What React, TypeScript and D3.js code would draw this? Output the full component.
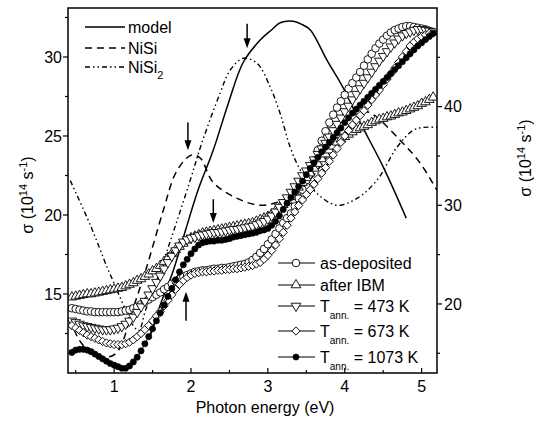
import React from 'react';
import * as d3 from 'd3';

// ---------- data ----------
const ENERGY = [0.45,0.5,0.55,0.6,0.65,0.7,0.75,0.8,0.85,0.9,
0.95,1.0,1.05,1.1,1.15,1.2,1.25,1.3,1.35,1.4,
1.45,1.5,1.55,1.6,1.65,1.7,1.75,1.8,1.85,1.9,
1.95,2.0,2.05,2.1,2.15,2.2,2.25,2.3,2.35,2.4,
2.45,2.5,2.55,2.6,2.65,2.7,2.75,2.8,2.85,2.9,
2.95,3.0,3.05,3.1,3.15,3.2,3.25,3.3,3.35,3.4,
3.45,3.5,3.55,3.6,3.65,3.7,3.75,3.8,3.85,3.9,
3.95,4.0,4.05,4.1,4.15,4.2,4.25,4.3,4.35,4.4,
4.45,4.5,4.55,4.6,4.65,4.7,4.75,4.8,4.85,4.9,
4.95,5.0,5.05,5.1,5.15];

const AS_DEPOSITED = [14.1,14.05,14.0,13.95,13.9,13.9,13.85,13.85,13.85,13.85,
13.85,13.85,13.85,13.9,13.95,14.0,14.1,14.2,14.35,14.5,
14.65,14.8,14.95,15.1,15.3,15.45,15.65,15.8,15.95,16.1,
16.2,16.3,16.4,16.45,16.5,16.5,16.55,16.6,16.6,16.65,
16.65,16.7,16.75,16.8,16.85,16.9,17.0,17.15,17.35,17.6,
17.85,18.15,18.45,18.8,19.15,19.5,19.8,20.1,20.55,21.05,
21.6,22.2,22.8,23.45,24.1,24.7,25.3,25.85,26.35,26.8,
27.2,27.6,28.0,28.35,28.7,29.05,29.45,29.85,30.2,30.55,
30.85,31.1,31.35,31.55,31.7,31.8,31.9,31.95,31.95,31.9,
31.85,31.8,31.75,31.65,31.55];

const AFTER_IBM = [14.8,14.85,14.9,14.95,15.0,15.0,15.05,15.1,15.15,15.2,
15.25,15.3,15.35,15.4,15.5,15.6,15.7,15.85,15.95,16.1,
16.25,16.45,16.6,16.8,17.05,17.3,17.55,17.8,18.0,18.2,
18.4,18.55,18.65,18.75,18.85,18.9,18.95,19.0,19.05,19.1,
19.15,19.2,19.25,19.3,19.35,19.4,19.45,19.5,19.6,19.7,
19.8,19.9,20.05,20.25,20.45,20.65,20.9,21.15,21.45,21.75,
22.05,22.35,22.65,22.95,23.25,23.55,23.85,24.1,24.35,24.6,
24.8,24.95,25.1,25.25,25.4,25.5,25.6,25.7,25.85,25.95,
26.05,26.1,26.2,26.25,26.35,26.45,26.5,26.6,26.7,26.8,
26.9,27.05,27.15,27.3,27.45];

const T473 = [13.3,13.2,13.1,13.0,12.95,12.9,12.85,12.8,12.75,12.75,
12.75,12.8,12.85,12.95,13.1,13.3,13.55,13.85,14.2,14.55,
14.95,15.35,15.75,16.15,16.6,17.0,17.4,17.75,18.05,18.3,
18.45,18.55,18.6,18.7,18.75,18.8,18.85,18.9,18.9,18.95,
19.0,19.05,19.1,19.1,19.15,19.2,19.25,19.3,19.4,19.5,
19.6,19.75,19.95,20.2,20.5,20.8,21.1,21.45,21.8,22.15,
22.5,22.8,23.15,23.5,23.85,24.2,24.55,24.95,25.35,25.75,
26.15,26.55,26.9,27.3,27.65,28.0,28.35,28.7,29.05,29.4,
29.75,30.05,30.35,30.65,30.9,31.15,31.35,31.5,31.6,31.7,
31.75,31.75,31.7,31.65,31.6];

const T673 = [13.0,12.85,12.7,12.55,12.4,12.3,12.2,12.1,12.0,11.9,
11.85,11.8,11.8,11.8,11.85,11.95,12.1,12.3,12.5,12.75,
13.0,13.3,13.6,13.9,14.25,14.6,14.95,15.3,15.6,15.85,
16.05,16.2,16.3,16.35,16.4,16.4,16.45,16.45,16.5,16.5,
16.55,16.55,16.6,16.6,16.65,16.7,16.75,16.8,16.9,17.0,
17.2,17.45,17.75,18.1,18.5,18.9,19.35,19.8,20.2,20.6,
20.95,21.3,21.6,21.95,22.3,22.65,23.0,23.4,23.8,24.2,
24.6,25.0,25.35,25.7,26.0,26.3,26.6,26.95,27.3,27.6,
27.9,28.25,28.6,28.95,29.3,29.65,30.0,30.35,30.7,30.95,
31.15,31.3,31.4,31.5,31.55];

const T1073 = [11.3,11.45,11.5,11.5,11.45,11.35,11.2,11.05,10.9,10.75,
10.6,10.5,10.4,10.3,10.3,10.45,10.7,11.0,11.4,11.85,
12.3,12.8,13.3,13.8,14.3,14.85,15.35,15.9,16.4,16.85,
17.2,17.55,17.85,18.1,18.25,18.3,18.35,18.35,18.4,18.4,
18.45,18.5,18.6,18.65,18.7,18.75,18.8,18.85,18.9,19.0,
19.05,19.15,19.35,19.6,19.95,20.35,20.75,21.1,21.45,21.8,
22.15,22.55,22.95,23.3,23.65,24.0,24.3,24.6,24.9,25.2,
25.5,25.85,26.15,26.45,26.7,26.95,27.2,27.45,27.7,27.95,
28.2,28.45,28.7,28.95,29.2,29.45,29.7,29.95,30.2,30.45,
30.7,30.9,31.1,31.3,31.5];

// theoretical curves (right axis)
const MODEL_E = [1.47,1.60,1.77,1.93,2.09,2.29,2.48,2.68,2.90,3.05,3.16,3.33,3.45,3.55,3.77,3.98,4.20,4.50,4.80];
const MODEL_V = [16.75,19.9,23.4,27.5,31.5,35.6,40.2,44.5,46.75,47.8,48.5,48.65,48.3,47.8,44.7,41.9,38.4,33.9,28.7];

const NISI_E = [0.43,0.53,0.69,0.86,0.99,1.08,1.24,1.41,1.64,1.79,1.92,2.01,2.12,2.29,2.60,2.90,3.12,3.33,3.55,3.81,4.01,4.18,4.30,4.42,4.72,4.98,5.20];
const NISI_V = [18.55,16.55,15.1,14.6,14.8,15.6,19.4,23.4,29.5,33.1,34.6,35.1,34.8,32.3,30.7,30.0,30.3,31.0,32.6,35.4,37.6,39.1,39.45,38.9,36.6,34.3,31.5];

const NISI2_E = [0.43,0.69,0.91,1.01,1.12,1.24,1.32,1.41,1.60,1.80,1.99,2.14,2.38,2.51,2.68,2.86,3.03,3.16,3.29,3.42,3.64,3.90,4.16,4.42,4.68,4.89,5.02,5.20];
const NISI2_V = [32.5,28.0,23.7,21.9,19.9,17.9,17.3,19.4,23.4,28.0,32.55,36.3,41.4,43.7,44.9,44.4,42.0,39.3,35.9,33.6,31.2,30.0,30.7,32.55,35.9,37.6,37.9,37.9];

// annotation arrows: energy, start value, end value (left axis)
const ARROW_E = [2.73, 1.96, 2.29, 1.935];
const ARROW_FROM = [32.1, 25.85, 21.0, 13.3];
const ARROW_TO = [30.55, 24.1, 19.5, 15.15];

// ticks
const X_TICKS = [1, 2, 3, 4, 5];
const X_MINOR = [0.5, 1.5, 2.5, 3.5, 4.5];
const L_TICKS = [15, 20, 25, 30];
const L_MINOR = [12.5, 17.5, 22.5, 27.5, 32.5];
const R_TICKS = [20, 30, 40];
const R_MINOR = [15, 25, 35, 45];

const FONT = 'Liberation Sans, Arial, Helvetica, sans-serif';

type Sym = 'circle' | 'up' | 'down' | 'diamond' | 'filled';

const SERIES: { key: string; values: number[]; sym: Sym; label: string; temp?: string }[] = [
  { key: 'asdep', values: AS_DEPOSITED, sym: 'circle', label: 'as-deposited' },
  { key: 'ibm', values: AFTER_IBM, sym: 'up', label: 'after IBM' },
  { key: 't473', values: T473, sym: 'down', label: 'T', temp: ' = 473 K' },
  { key: 't673', values: T673, sym: 'diamond', label: 'T', temp: ' = 673 K' },
  { key: 't1073', values: T1073, sym: 'filled', label: 'T', temp: ' = 1073 K' },
];

const triPath = d3.symbol(d3.symbolTriangle, 40)() as string;
const sqPath = d3.symbol(d3.symbolSquare, 34)() as string;

function Marker({ sym, cx, cy }: { sym: Sym; cx: number; cy: number }) {
  const common = { stroke: '#000', strokeWidth: 0.9 };
  switch (sym) {
    case 'circle':
      return <circle cx={cx} cy={cy} r={3.8} fill="#fff" {...common} />;
    case 'filled':
      return <circle cx={cx} cy={cy} r={3.1} fill="#000" stroke="#000" strokeWidth={0.6} />;
    case 'up':
      return <path d={triPath} transform={`translate(${cx},${cy})`} fill="#fff" {...common} />;
    case 'down':
      return <path d={triPath} transform={`translate(${cx},${cy}) rotate(180)`} fill="#fff" {...common} />;
    case 'diamond':
      return <path d={sqPath} transform={`translate(${cx},${cy}) rotate(45)`} fill="#fff" {...common} />;
  }
  return null;
}

export default function App() {
  const L = 68, R = 437, T = 8, B = 373;
  const x = d3.scaleLinear().domain([0.4, 5.2]).range([L, R]);
  const yL = d3.scaleLinear().domain([10, 33.1]).range([B, T]);
  const yR = d3.scaleLinear().domain([13, 50]).range([B, T]);

  const theoryLine = (es: number[], vs: number[]) =>
    d3.line<number>()
      .x((_, i) => x(es[i]))
      .y((v) => yR(v))
      .curve(d3.curveCatmullRom.alpha(0.5))(vs) as string;

  const dataLine = (vs: number[]) =>
    d3.line<number>().x((_, i) => x(ENERGY[i])).y((v) => yL(v))(vs) as string;

  const legendRowsY = [263, 285, 306, 331, 357];

  return (
    <svg width={534} height={423} style={{ position: 'absolute', left: 0, top: 0, background: '#fff' }}
      fontFamily={FONT}>
      <defs>
        <clipPath id="plot"><rect x={L} y={T} width={R - L} height={B - T} /></clipPath>
      </defs>
      <rect x={0} y={0} width={534} height={423} fill="#fff" />

      {/* theoretical curves */}
      <g clipPath="url(#plot)" fill="none" stroke="#000">
        <path d={theoryLine(MODEL_E, MODEL_V)} strokeWidth={1.5} />
        <path d={theoryLine(NISI_E, NISI_V)} strokeWidth={1.5} strokeDasharray="7,5" />
        <path d={theoryLine(NISI2_E, NISI2_V)} strokeWidth={1.4} strokeDasharray="5,3,1.5,3,1.5,3" />
      </g>

      {/* experimental series */}
      <g clipPath="url(#plot)">
        {SERIES.map((s) => (
          <g key={s.key}>
            <path d={dataLine(s.values)} fill="none" stroke="#000" strokeWidth={1} />
            {s.values.map((v, i) => (
              <Marker key={i} sym={s.sym} cx={x(ENERGY[i])} cy={yL(v)} />
            ))}
          </g>
        ))}
      </g>

      {/* arrows */}
      {ARROW_E.map((e, i) => {
        const ax = x(e);
        const y0 = yL(ARROW_FROM[i]);
        const y1 = yL(ARROW_TO[i]);
        const dir = y1 > y0 ? 1 : -1;
        const headLen = 10, headW = 3.5;
        return (
          <g key={i}>
            <line x1={ax} y1={y0} x2={ax} y2={y1 - dir * headLen + dir * 1} stroke="#000" strokeWidth={1.5} />
            <path d={`M${ax},${y1} L${ax - headW},${y1 - dir * headLen} L${ax + headW},${y1 - dir * headLen} Z`} fill="#000" />
          </g>
        );
      })}

      {/* frame */}
      <rect x={L} y={T} width={R - L} height={B - T} fill="none" stroke="#000" strokeWidth={1.5} />

      {/* bottom axis (ticks inward) */}
      {X_TICKS.map((t) => (
        <g key={'x' + t}>
          <line x1={x(t)} x2={x(t)} y1={B} y2={B - 5} stroke="#000" strokeWidth={1.2} />
          <text x={x(t)} y={392} fontSize={16} textAnchor="middle">{t}</text>
        </g>
      ))}
      {X_MINOR.map((t) => (
        <line key={'xm' + t} x1={x(t)} x2={x(t)} y1={B} y2={B - 3} stroke="#000" strokeWidth={1.2} />
      ))}

      {/* left axis (ticks outward) */}
      {L_TICKS.map((t) => (
        <g key={'l' + t}>
          <line x1={L} x2={L - 5} y1={yL(t)} y2={yL(t)} stroke="#000" strokeWidth={1.2} />
          <text x={62} y={yL(t) + 5.8} fontSize={16} textAnchor="end">{t}</text>
        </g>
      ))}
      {L_MINOR.map((t) => (
        <line key={'lm' + t} x1={L} x2={L - 3} y1={yL(t)} y2={yL(t)} stroke="#000" strokeWidth={1.2} />
      ))}

      {/* right axis (ticks outward) */}
      {R_TICKS.map((t) => (
        <g key={'r' + t}>
          <line x1={R} x2={R + 5} y1={yR(t)} y2={yR(t)} stroke="#000" strokeWidth={1.2} />
          <text x={444} y={yR(t) + 5.8} fontSize={16} textAnchor="start">{t}</text>
        </g>
      ))}
      {R_MINOR.map((t) => (
        <line key={'rm' + t} x1={R} x2={R + 3} y1={yR(t)} y2={yR(t)} stroke="#000" strokeWidth={1.2} />
      ))}

      {/* axis titles */}
      <text x={265} y={413} fontSize={16} textAnchor="middle">Photon energy (eV)</text>
      <text transform="translate(33,195) rotate(-90)" fontSize={16} textAnchor="middle">
        σ (10<tspan dy={-6} fontSize={11}>14</tspan><tspan dy={6}> s</tspan><tspan dy={-6} fontSize={11}>-1</tspan><tspan dy={6}>)</tspan>
      </text>
      <text transform="translate(531,158) rotate(-90)" fontSize={16} textAnchor="middle">
        σ (10<tspan dy={-6} fontSize={11}>14</tspan><tspan dy={6}> s</tspan><tspan dy={-6} fontSize={11}>-1</tspan><tspan dy={6}>)</tspan>
      </text>

      {/* top-left legend */}
      <g stroke="#000" fill="none">
        <line x1={85} x2={125} y1={27} y2={27} strokeWidth={1.5} />
        <line x1={85} x2={125} y1={48} y2={48} strokeWidth={1.5} strokeDasharray="7,5" />
        <line x1={85} x2={125} y1={67} y2={67} strokeWidth={1.4} strokeDasharray="5,3,1.5,3,1.5,3" />
      </g>
      <text x={128} y={33} fontSize={16}>model</text>
      <text x={128} y={54} fontSize={16}>NiSi</text>
      <text x={128} y={73} fontSize={16}>NiSi<tspan dy={6} fontSize={11}>2</tspan></text>

      {/* bottom-right legend */}
      {SERIES.map((s, i) => {
        const ly = legendRowsY[i];
        return (
          <g key={'lg' + s.key}>
            <line x1={278} x2={315} y1={ly} y2={ly} stroke="#000" strokeWidth={1.2} />
            <Marker sym={s.sym} cx={296} cy={ly} />
            {s.temp ? (
              <text x={320} y={ly + 6} fontSize={16}>
                T<tspan dy={7} fontSize={10}>ann.</tspan><tspan dy={-7}>{s.temp}</tspan>
              </text>
            ) : (
              <text x={320} y={ly + 6} fontSize={16}>{s.label}</text>
            )}
          </g>
        );
      })}
    </svg>
  );
}
